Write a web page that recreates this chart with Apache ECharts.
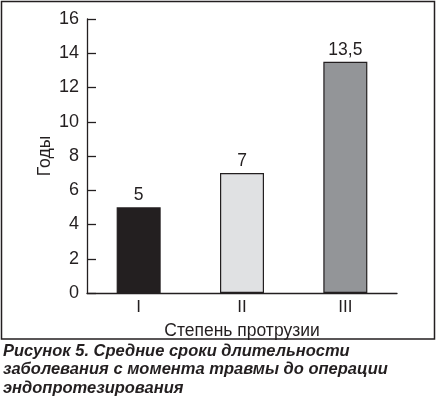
<!DOCTYPE html>
<html><head><meta charset="utf-8">
<script src="https://cdn.jsdelivr.net/npm/echarts@6/dist/echarts.min.js"></script>
<style>html,body{margin:0;padding:0;background:#fff}#c{width:436px;height:396px}</style>
</head><body><div id="c"></div>
<script>
const categories = ['I', 'II', 'III'];
const values = [5, 7, 13.5];
const valueLabels = ['5', '7', '13,5'];
const barColors = ['#231f20', '#e0e1e3', '#939598'];
const yTicks = [0, 2, 4, 6, 8, 10, 12, 14, 16];
const yName = 'Годы';
const xName = 'Степень протрузии';
const captionLines = ['Рисунок 5. Средние сроки длительности', 'заболевания с момента травмы до операции', 'эндопротезирования'];

const FONT = 'Liberation Sans, Arial, Helvetica, sans-serif';
const INK = '#231f20';
const chart = echarts.init(document.getElementById('c'), null, {renderer: 'canvas'});
chart.setOption({
  animation: false,
  backgroundColor: '#fff',
  textStyle: {fontFamily: FONT},
  grid: {left: 87, top: 19, right: 39, bottom: 103, containLabel: false},
  xAxis: {
    type: 'category', data: categories,
    name: xName, nameLocation: 'middle', nameGap: 29, nameMoveOverlap: false,
    nameTextStyle: {fontSize: 17.5, color: INK, fontFamily: FONT},
    axisLine: {lineStyle: {color: INK, width: 1.3}},
    axisTick: {inside: true, length: 7, lineStyle: {color: INK, width: 1.3}},
    axisLabel: {fontSize: 17, color: INK, margin: 6, fontFamily: FONT}
  },
  yAxis: {
    type: 'value', min: yTicks[0], max: yTicks[yTicks.length - 1], interval: 2,
    name: yName, nameLocation: 'middle', nameGap: 33, nameRotate: 90, nameMoveOverlap: false,
    nameTextStyle: {fontSize: 17.5, color: INK, fontFamily: FONT},
    axisLine: {show: true, lineStyle: {color: INK, width: 1.3}},
    axisTick: {show: true, inside: true, length: 9, lineStyle: {color: INK, width: 1.3}},
    axisLabel: {fontSize: 18, color: INK, margin: 8, fontFamily: FONT},
    splitLine: {show: false}
  },
  series: [{
    type: 'bar', barWidth: 44,
    data: values.map((v, i) => ({value: v, itemStyle: {color: barColors[i]}})),
    itemStyle: {borderColor: INK, borderWidth: 1.2},
    label: {show: true, position: 'top', distance: 3, fontSize: 17.5, color: INK, fontFamily: FONT,
      formatter: p => valueLabels[p.dataIndex]}
  }],
  graphic: [
    {type: 'rect', shape: {x: 1.5, y: 1.5, width: 433, height: 337.5},
     style: {fill: 'none', stroke: INK, lineWidth: 1.5}, z: 10},
    {type: 'text', left: 3, top: 342,
     style: {text: captionLines.join('\n'), fontSize: 16.5, fontWeight: 'bold', fontStyle: 'italic',
       fontFamily: FONT, fill: INK, lineHeight: 18.5}}
  ]
});
</script></body></html>
